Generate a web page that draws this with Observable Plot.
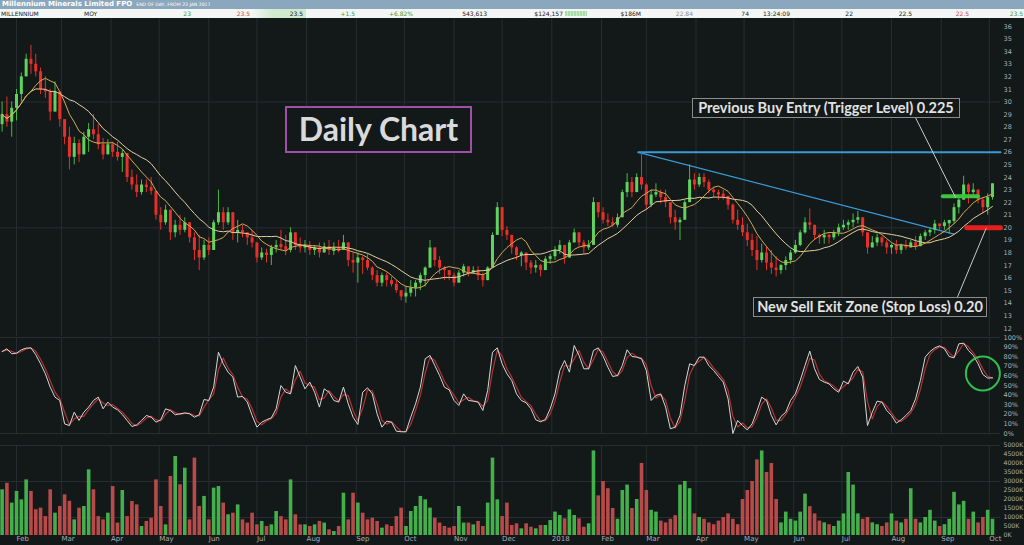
<!DOCTYPE html>
<html><head><meta charset="utf-8">
<script src="https://cdn.jsdelivr.net/npm/d3@7"></script>
<script src="https://cdn.jsdelivr.net/npm/@observablehq/plot@0.6"></script>
<style>
html,body{margin:0;padding:0;background:#131819;width:1024px;height:545px;overflow:hidden}
#wrap{position:relative;width:1024px;height:545px;background:#131819}
#titlebar{position:absolute;left:0;top:0;width:1024px;height:9px;background:#8ba7bd;color:#fff;font:bold 7px "DejaVu Sans";line-height:9px;white-space:nowrap}
#titlebar .t{position:absolute;left:2px;top:0}
#titlebar .s{font-weight:normal;font-size:4.6px;margin-left:4px;vertical-align:top}
#quote{position:absolute;left:0;top:9px;width:1024px;height:9px;background:#f4f6f6;overflow:hidden}
.q{position:absolute;top:0;font:6px "DejaVu Sans";line-height:9px;color:#222;white-space:nowrap}
.panel{position:absolute;left:0}
.box{position:absolute;box-sizing:border-box;background:#131819;color:#e2e2e2;font-family:Lato,"Open Sans",sans-serif;font-weight:700;text-align:center;white-space:nowrap}
</style></head>
<body><div id="wrap">
<div id="titlebar"><div class="t">Millennium Minerals Limited FPO<span class="s">END OF DAY, FROM 23 JAN 2017</span></div></div>
<div id="quote"></div>
<div id="price" class="panel" style="top:18px"></div>
<div id="osc" class="panel" style="top:336px"></div>
<div id="vol" class="panel" style="top:440px"></div>
</div>
<script>
// ---------- DATA (3-calendar-day bars from 23 Jan 2017) ----------
const firstOpen = 28.2;
const close = [
29,28.4,29.5,30.6,32,33.4,33,32.4,31,30.8,
29.2,30.8,28.6,27.2,25.6,26.7,25.8,27.2,27.8,27.4,
26.6,25.8,26.6,26,25.6,25.9,24,23.4,22.8,23.4,
23.2,22.9,21,20.4,21.4,19.6,20.2,19.8,20.4,19.2,
18.2,17.6,18.6,18.2,20.4,21.2,20.4,21.2,19.6,19.8,
19.6,19.2,18.8,17.6,18,17.8,18.4,18.6,18.5,18.2,
19.6,18.6,18.4,18.6,18.2,18.4,18,18.5,18.2,18.3,
18.2,18.8,17.4,17.2,17.6,17.4,16.8,16.2,15.6,16.2,
15.8,15.5,15,14.5,14.8,15.2,15.6,16.2,16.8,18.4,
17.4,16.8,16.6,16.2,15.6,16.4,16.9,16.4,16.6,16.2,
15.8,16.8,19.4,21.6,19.8,19.4,18.4,17.8,18,17.2,
16.8,17,16.6,17.5,17.7,18.2,18.6,17.6,18.8,19.6,
18.8,18.4,18.6,22,21.2,20.6,20.4,20.2,20.8,22.8,
23.6,22.8,24,23.4,21.8,22.6,22.8,22.4,22,20.8,
20.4,20.6,22,23.8,23.4,24,23.6,23,22.8,22.6,
22.5,21.8,20.6,20.2,19.6,19,18.2,17.4,18,17.2,
16.8,16.6,17,17.4,18,18.6,19.6,20.4,20.2,19.4,
19.2,19.4,19.2,19.6,20,20.2,20.4,20.6,20.8,19.6,
18.4,18.8,19.2,18.8,18.4,18.6,18.2,18.6,18.4,18.8,
18.5,19.3,19.6,19.8,20.3,20.1,20.4,20.5,21.6,22.2,
23.4,22.8,23,22.2,21.6,22.4,23.5];
const high = [
30,30.4,30,31,32.3,33.8,34.5,33.8,32.7,32,
31,31.6,30.2,28.6,28,27.2,27,27.6,28.3,29,
28.2,27.1,27,26.8,26.8,26.2,25.4,24.6,24.2,23.8,
23.8,24,22.2,21.6,21.8,21,20.6,21,20.8,20.2,
19.6,19.4,19,19.2,20.6,23,21.6,21.6,21,20.6,
20.2,19.6,19.8,18.8,18.4,18.3,18.6,19,19.8,19.4,
20,19.6,19.2,19,18.9,18.6,18.8,18.8,19,18.8,
19,19.4,18.5,18,18,17.7,17.9,16.9,16.6,16.4,
16.4,16.1,15.8,15,15.3,15.8,15.8,16.4,16.9,19,
18.2,17.7,16.9,16.6,16.4,16.6,17.1,16.9,16.9,16.9,
16.4,16.9,19.6,22,20.9,20.1,19.3,18.5,18.1,17.9,
17.4,17.4,17.1,17.7,17.9,18.5,19,18.2,19,19.9,
19.5,19,19,22.4,21.9,21.6,21.1,20.8,21.1,23,
24.3,24,24.3,26,23.5,23,23.5,23,23,21.9,
21.4,20.8,22.2,25,24.3,24.3,24.3,23.8,23.2,23,
23,22.4,21.9,21.4,20.8,20.3,19.5,19.3,18.7,18.5,
18.2,17.7,17.1,17.7,18.2,19,19.8,20.8,21.5,19.8,
19.5,19.8,19.5,19.8,20.3,20.6,20.6,21.1,21.3,20.3,
19.3,19.3,19.5,19.3,19,18.7,19,18.7,19,19,
19.3,19.5,19.8,20,20.6,20.3,20.6,20.6,21.9,22.4,
24.1,23.5,23.5,23,22.4,22.7,23.5];
const low = [
27.6,28,27.2,28.5,30,32,32.2,32,30.6,30.3,
28.5,29.5,28,26.6,24.6,25,25.2,25.8,26,27,
26.2,25.4,25.8,25.6,25.3,24.4,23.6,23,22.4,22.6,
22.8,22.6,20.6,19.8,20.2,19,19.2,19.4,19.6,18.8,
17.4,16.6,17.4,17.8,18.6,20.2,19.8,20.2,19,18.8,
19.2,18.6,18.4,17.2,17.4,17.2,17,18,18.2,17.8,
18,18.2,18,18,17.8,17.8,17.6,18,17.8,17.8,
18,18.2,16.9,16.4,15.6,16.3,16.6,15.8,15.3,15.3,
15.3,15.3,14.8,14.2,14,14.5,14.5,15,15.3,17.4,
16.9,16.3,15.8,15.8,15.3,15.8,16.1,16.1,16.3,15.8,
15.3,16.1,16.9,20,19.3,19,17.9,17.4,16.9,16.6,
16.3,16.4,16.1,16.9,17.1,17.4,17.9,17.1,17.7,19,
18.5,17.9,18.2,21.4,20.8,20.3,20.1,20.05,20,21.6,
22.4,22.4,23.2,23,21.4,21.6,22.4,21.9,21.6,20.3,
19.8,19,20.8,23,23,23.2,23.2,22.7,22.4,22.2,
22.2,21.4,20.3,19.8,19.3,18.5,17.7,16.6,17.2,16.6,
16.3,16.1,16.3,16.6,17.1,17.9,18.5,19.5,19.8,19,
18.7,18.7,18.7,19,19.3,19.8,19.8,20,20.3,19.3,
17.9,18.5,18.5,18.5,17.9,17.9,17.9,17.9,18.2,18.5,
18.2,18.7,19,19.3,19.5,19.8,19.8,19.5,20.3,21.1,
22.2,21.9,22.4,21.9,21.1,21,22.2];
const volume = [
2540,2900,1800,2450,1980,3090,2450,1430,1520,1050,
2540,1240,1610,2260,1900,870,1520,1610,3650,2540,
1050,870,1240,2720,690,2500,1050,1890,1700,500,
780,960,3090,1610,590,3280,4390,2815,3740,870,
4300,1610,2170,870,2630,2720,1800,1150,1240,1700,
870,690,1240,590,780,500,590,1330,1050,870,
3090,1150,590,590,500,590,780,690,315,220,
500,2350,870,2350,1800,1240,870,960,780,410,
590,500,1050,1520,500,1330,1610,2170,1980,1520,
960,690,500,410,500,1610,690,690,590,780,
500,1800,4300,1980,1050,1800,555,650,370,650,
460,370,555,555,830,1300,1110,925,1425,1110,
925,460,650,4700,2200,3000,2600,1500,900,2500,
2800,1500,2000,4000,2500,1400,1300,800,700,900,
1100,2800,3000,2600,1200,1000,900,700,600,800,
1000,1200,900,600,2000,2500,3000,4200,4700,3500,
4000,2000,700,1300,900,800,1300,2300,1600,1200,
800,700,600,500,800,1200,3500,2800,1200,900,
1000,700,600,500,700,1200,800,700,900,2600,
900,700,1000,1400,800,500,600,900,2400,1700,
1900,900,1300,700,1000,1400,900];
const stoch = [
85.4,88.2,83,83.7,87.2,88.9,89.2,82,72.6,62.2,
48.3,37.9,34.4,10,8.3,22.2,13.6,22.2,27.5,34.4,
37.9,25.7,32.7,27.5,24.7,19.8,13.6,7.3,9,13.6,
18.8,17,11.8,14.3,25.7,24,19.5,20.5,21.5,20.5,
17,19.5,35.4,34.4,48.3,84.7,72.6,63.9,58.7,37.9,
38.6,32.7,18.8,6.6,11.8,14.3,16.3,25.7,50,43,
41.3,70.8,58.7,46.5,53.5,43,27.5,46.5,43,34.4,
32.7,48.3,30.9,17,9.4,43,47.6,41.3,20.5,6.6,
12.9,11.8,2.4,1.8,1.8,17,30.9,48.3,77.8,81.3,
70.8,60.4,48.3,45.5,34.4,29.2,41.3,34.4,33.7,32.7,
24,44.8,84.7,89.2,72.6,62.2,55.2,41.3,34.4,32,
25.7,14.3,12.2,14.6,25.7,41.3,65.6,76,63.9,91.7,
81.3,67.4,67.4,86.5,89.2,80.6,69.1,59.4,60.4,70.8,
87.2,80.2,79.5,77.8,65.6,34.4,39.6,41.3,27.5,4.9,
6.6,18.8,50,72.6,70.8,79.5,79.5,70.8,65.6,59.4,
53.5,36.1,0,13.6,8.3,3.8,10.1,23.3,37.9,34.4,
18.8,9,17.7,22.2,34.4,41.3,55.2,70.8,85.8,67.4,
56.3,53.5,51.7,46.5,43,54.5,51.7,63.9,69.8,58.7,
8.3,22.2,33.7,32.7,24,18.8,10.8,14.3,18.8,24,
36.1,55.2,79.5,85.4,89.2,91.3,88.2,80.2,78.8,93.4,
94.1,86.5,81.3,72.6,61.5,57.7,58];

// tick values / labels
const priceTicks = d3.range(12, 37);
const priceGrid = [20, 30];
const oscTicks = d3.range(0, 101, 10);
const volTicks = d3.range(0, 5001, 500);
const volGrid = [1000, 3000, 5000];
const monthTicks = d3.utcMonth.range(new Date(Date.UTC(2017,1,1)), new Date(Date.UTC(2018,9,2)));

// drawn levels / annotations (date, price)
const resistance = [{date:"2018-02-24", p:26}, {date:"2018-10-08", p:26}];
const trendline = [{date:"2018-02-24", p:26}, {date:"2018-09-09", p:19.5}];
const buyLevel = [{date:"2018-09-02", p:22.5}, {date:"2018-09-24", p:22.5}];
const stopLevel = [{date:"2018-09-17", p:20}, {date:"2018-10-08", p:20}];
const callout1 = [{date:"2018-08-16", p:28.75}, {date:"2018-09-10", p:22.4}];
const callout2 = [{date:"2018-09-11", p:14.45}, {date:"2018-09-29", p:19.95}];
const circleMark = [{date:"2018-09-27", v:62.5}];

const quoteCells = ["MILLENNIUM","MOY","23","23.5","23.5","+1.5","+6.82%","543,613","$124,157","$186M","22.84","74","13:24:09","22","22.5","22.5","23.5"];

// ---------- build ----------
const start = new Date(Date.UTC(2017,0,23));
const bars = close.map((c, i) => {
  const open = i ? close[i-1] : firstOpen;
  const up = c >= open;
  let bTop = Math.max(open, c), bBot = Math.min(open, c);
  if (bTop - bBot < 0.15) { bTop += 0.08; bBot -= 0.08; }
  return {date: d3.utcDay.offset(start, 3*i), open, close: c, up,
    hi: Math.max(high[i], open, c), lo: Math.min(low[i], open, c), bTop, bBot,
    vol: volume[i], osc: stoch[i]};
});
const P = d => ({...d, date: new Date(d.date + "T00:00Z")});
const xDomain = [new Date(Date.UTC(2017,0,22)), new Date(Date.UTC(2018,9,8))];
const GRID = "#262e31", AX = "#aab0b3";
const GREEN = "#5fd35f", GREENW = "#45bb45", RED = "#e8302a";
const base = {width:1024, marginLeft:0, marginRight:24,
  style:{background:"transparent", color:AX, fontFamily:"'DejaVu Sans',sans-serif", fontSize:"6.5px", overflow:"visible"},
  color:{type:"identity"}};

const price = Plot.plot({...base, height:318, marginTop:0, marginBottom:0,
  x:{type:"utc", domain:xDomain, axis:null, label:null},
  y:{domain:[11.36, 36.64], axis:null, label:null},
  marks:[
    Plot.ruleX(monthTicks, {stroke:GRID}),
    Plot.ruleY(priceGrid, {stroke:GRID}),
    Plot.axisY(priceTicks, {anchor:"right", label:null, tickSize:0, tickPadding:3, fill:AX, fontSize:6.5}),
    Plot.line(resistance.map(P), {x:"date", y:"p", stroke:"#3b9ad6", strokeWidth:2}),
    Plot.line(trendline.map(P), {x:"date", y:"p", stroke:"#3b9ad6", strokeWidth:1.2}),
    Plot.ruleX(bars, {x:"date", y1:"lo", y2:"hi", stroke:d => d.up ? GREENW : RED, strokeWidth:1}),
    Plot.ruleX(bars, {x:"date", y1:"bBot", y2:"bTop", stroke:d => d.up ? GREEN : RED, strokeWidth:3}),
    Plot.line(bars, Plot.windowY({k:14, anchor:"end", reduce:"mean"}, {x:"date", y:"close", stroke:"#e2cf9e", strokeWidth:1})),
    Plot.line(bars, Plot.windowY({k:7, anchor:"end", reduce:"mean"}, {x:"date", y:"close", stroke:"#d3a955", strokeWidth:1})),
    Plot.line(buyLevel.map(P), {x:"date", y:"p", stroke:"#3fc43f", strokeWidth:4}),
    Plot.line(stopLevel.map(P), {x:"date", y:"p", stroke:"#e3201e", strokeWidth:5}),
    Plot.line(callout1.map(P), {x:"date", y:"p", stroke:"#c9c9c9", strokeWidth:1}),
    Plot.line(callout2.map(P), {x:"date", y:"p", stroke:"#c9c9c9", strokeWidth:1})
  ]});
document.getElementById("price").append(price);

const osc = Plot.plot({...base, height:104, marginTop:1, marginBottom:7,
  x:{type:"utc", domain:xDomain, axis:null, label:null},
  y:{domain:[0,100], axis:null, label:null},
  marks:[
    Plot.ruleX(monthTicks, {stroke:GRID}),
    Plot.ruleY([0,100], {stroke:GRID}),
    Plot.axisY(oscTicks, {anchor:"right", label:null, tickSize:0, tickPadding:3, fill:AX, fontSize:6.5, tickFormat:d => d + "%"}),
    Plot.line(bars, Plot.windowY({k:2, anchor:"end", reduce:"mean"}, {x:"date", y:"osc", stroke:"#b23434", strokeWidth:1.2})),
    Plot.line(bars, {x:"date", y:"osc", stroke:"#d8d8d8", strokeWidth:1}),
    Plot.dot(circleMark.map(P), {x:"date", y:"v", r:17, stroke:"#2fbf4c", strokeWidth:2, fill:"none"})
  ]});
document.getElementById("osc").append(osc);

const fmt = d => d.getUTCMonth() === 0 ? String(d.getUTCFullYear()) : d3.utcFormat("%b")(d);
const vol = Plot.plot({...base, height:105, marginTop:5, marginBottom:10,
  x:{type:"utc", domain:xDomain, label:null},
  y:{domain:[0,5000], axis:null, label:null},
  marks:[
    Plot.ruleX(monthTicks, {stroke:GRID}),
    Plot.ruleY(volGrid, {stroke:GRID}),
    Plot.axisY(volTicks, {anchor:"right", label:null, tickSize:0, tickPadding:3, fill:AX, fontSize:6.2, tickFormat:d => d + "K"}),
    Plot.ruleX(bars, {x:"date", y1:0, y2:"vol", stroke:d => d.up ? "#44b04c" : "#b84a49", strokeWidth:3.6}),
    Plot.axisX(monthTicks, {anchor:"bottom", label:null, tickSize:0, tickPadding:1, textAnchor:"start", fill:AX, fontSize:7, tickFormat:fmt})
  ]});
document.getElementById("vol").append(vol);

// quote row
const qx = [1,84,191,250,303,355,413,487,563,641,693,749,790,853,912,969,1023];
const qa = ["start","start"];
const qc = {2:"#3c9a3c",3:"#cc4a4a",5:"#3c9a3c",6:"#3c9a3c",10:"#8a8a8a",15:"#cc4a4a",16:"#3c9a3c"};
const quote = document.getElementById("quote");
const bg = document.createElement("div");
bg.style.cssText = "position:absolute;left:252px;top:0;width:54px;height:9px;background:linear-gradient(90deg,#f4f6f6,#cfeacf 40%,#cfeacf)";
quote.append(bg);
const mini = document.createElement("div");
mini.style.cssText = "position:absolute;left:565px;top:2px;width:22px;height:5px;background:repeating-linear-gradient(90deg,#a8dca8 0 2px,#c8ecc8 2px 3px)";
quote.append(mini);
quoteCells.forEach((t, i) => {
  const s = document.createElement("div");
  s.className = "q"; s.textContent = t;
  if (qc[i]) s.style.color = qc[i];
  if (qa[i] === "start") s.style.left = qx[i] + "px";
  else s.style.right = (1024 - qx[i]) + "px";
  quote.append(s);
});

// annotation boxes
const wrap = document.getElementById("wrap");
const boxes = [
  {t:"Daily Chart", css:"left:285px;top:106px;width:187px;height:47px;border:2px solid #a04fa6;font-size:32px;line-height:42px;color:#dadada"},
  {t:"Previous Buy Entry (Trigger Level) 0.225", css:"left:692px;top:98px;width:268px;height:20px;border:1px solid #8c8c8c;font-size:14.5px;line-height:18px"},
  {t:"New Sell Exit Zone (Stop Loss) 0.20", css:"left:753px;top:297px;width:234px;height:20px;border:1px solid #8c8c8c;font-size:14.5px;line-height:18px"}
];
boxes.forEach(b => {
  const d = document.createElement("div");
  d.className = "box"; d.style.cssText = b.css; d.textContent = b.t;
  wrap.append(d);
});
</script>
</body></html>
